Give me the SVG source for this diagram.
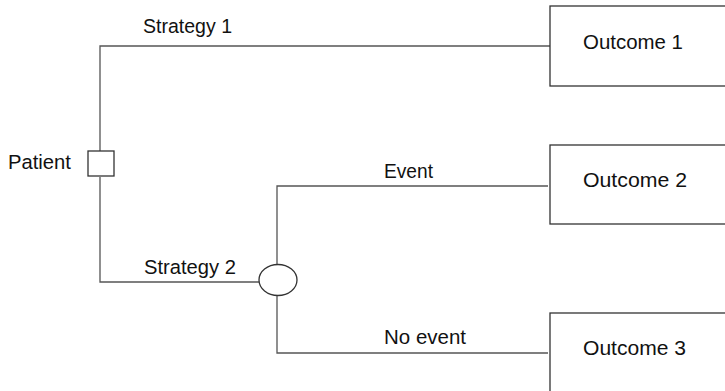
<svg xmlns="http://www.w3.org/2000/svg" width="725" height="391" viewBox="0 0 725 391">
<style>
.ln{fill:none;stroke:#555;stroke-width:1.3}
.bx{fill:#fff;stroke:#333;stroke-width:1.3}
.t{font-family:"Liberation Sans",Arial,sans-serif;font-size:20.5px;fill:#111}
</style>
<rect width="725" height="391" fill="#fff"/>
<g id="connectors">
<polyline class="ln" points="550,46 100,46 100,151"/>
<polyline class="ln" points="100,177 100,282 259,282"/>
<polyline class="ln" points="548,186 277,186 277,264"/>
<polyline class="ln" points="277,296 277,353 548,353"/>
<text class="t" x="143" y="33" textLength="89" lengthAdjust="spacingAndGlyphs">Strategy 1</text>
<text class="t" x="144" y="274" textLength="92" lengthAdjust="spacingAndGlyphs">Strategy 2</text>
<text class="t" x="384" y="178" textLength="49" lengthAdjust="spacingAndGlyphs">Event</text>
<text class="t" x="384" y="344" textLength="82" lengthAdjust="spacingAndGlyphs">No event</text>
</g>
<g id="patient">
<rect class="bx" x="88" y="151" width="26" height="25"/>
<text class="t" x="8" y="169" textLength="63" lengthAdjust="spacingAndGlyphs">Patient</text>
</g>
<g id="chance">
<ellipse class="bx" cx="278" cy="280" rx="19" ry="15.5"/>
</g>
<g id="outcome1">
<rect class="bx" x="550" y="6" width="185" height="80"/>
<text class="t" x="583" y="49" textLength="100" lengthAdjust="spacingAndGlyphs">Outcome 1</text>
</g>
<g id="outcome2">
<rect class="bx" x="550" y="145" width="185" height="79"/>
<text class="t" x="583" y="187" textLength="104" lengthAdjust="spacingAndGlyphs">Outcome 2</text>
</g>
<g id="outcome3">
<rect class="bx" x="550" y="313" width="185" height="90"/>
<text class="t" x="583" y="355" textLength="103" lengthAdjust="spacingAndGlyphs">Outcome 3</text>
</g>
</svg>
